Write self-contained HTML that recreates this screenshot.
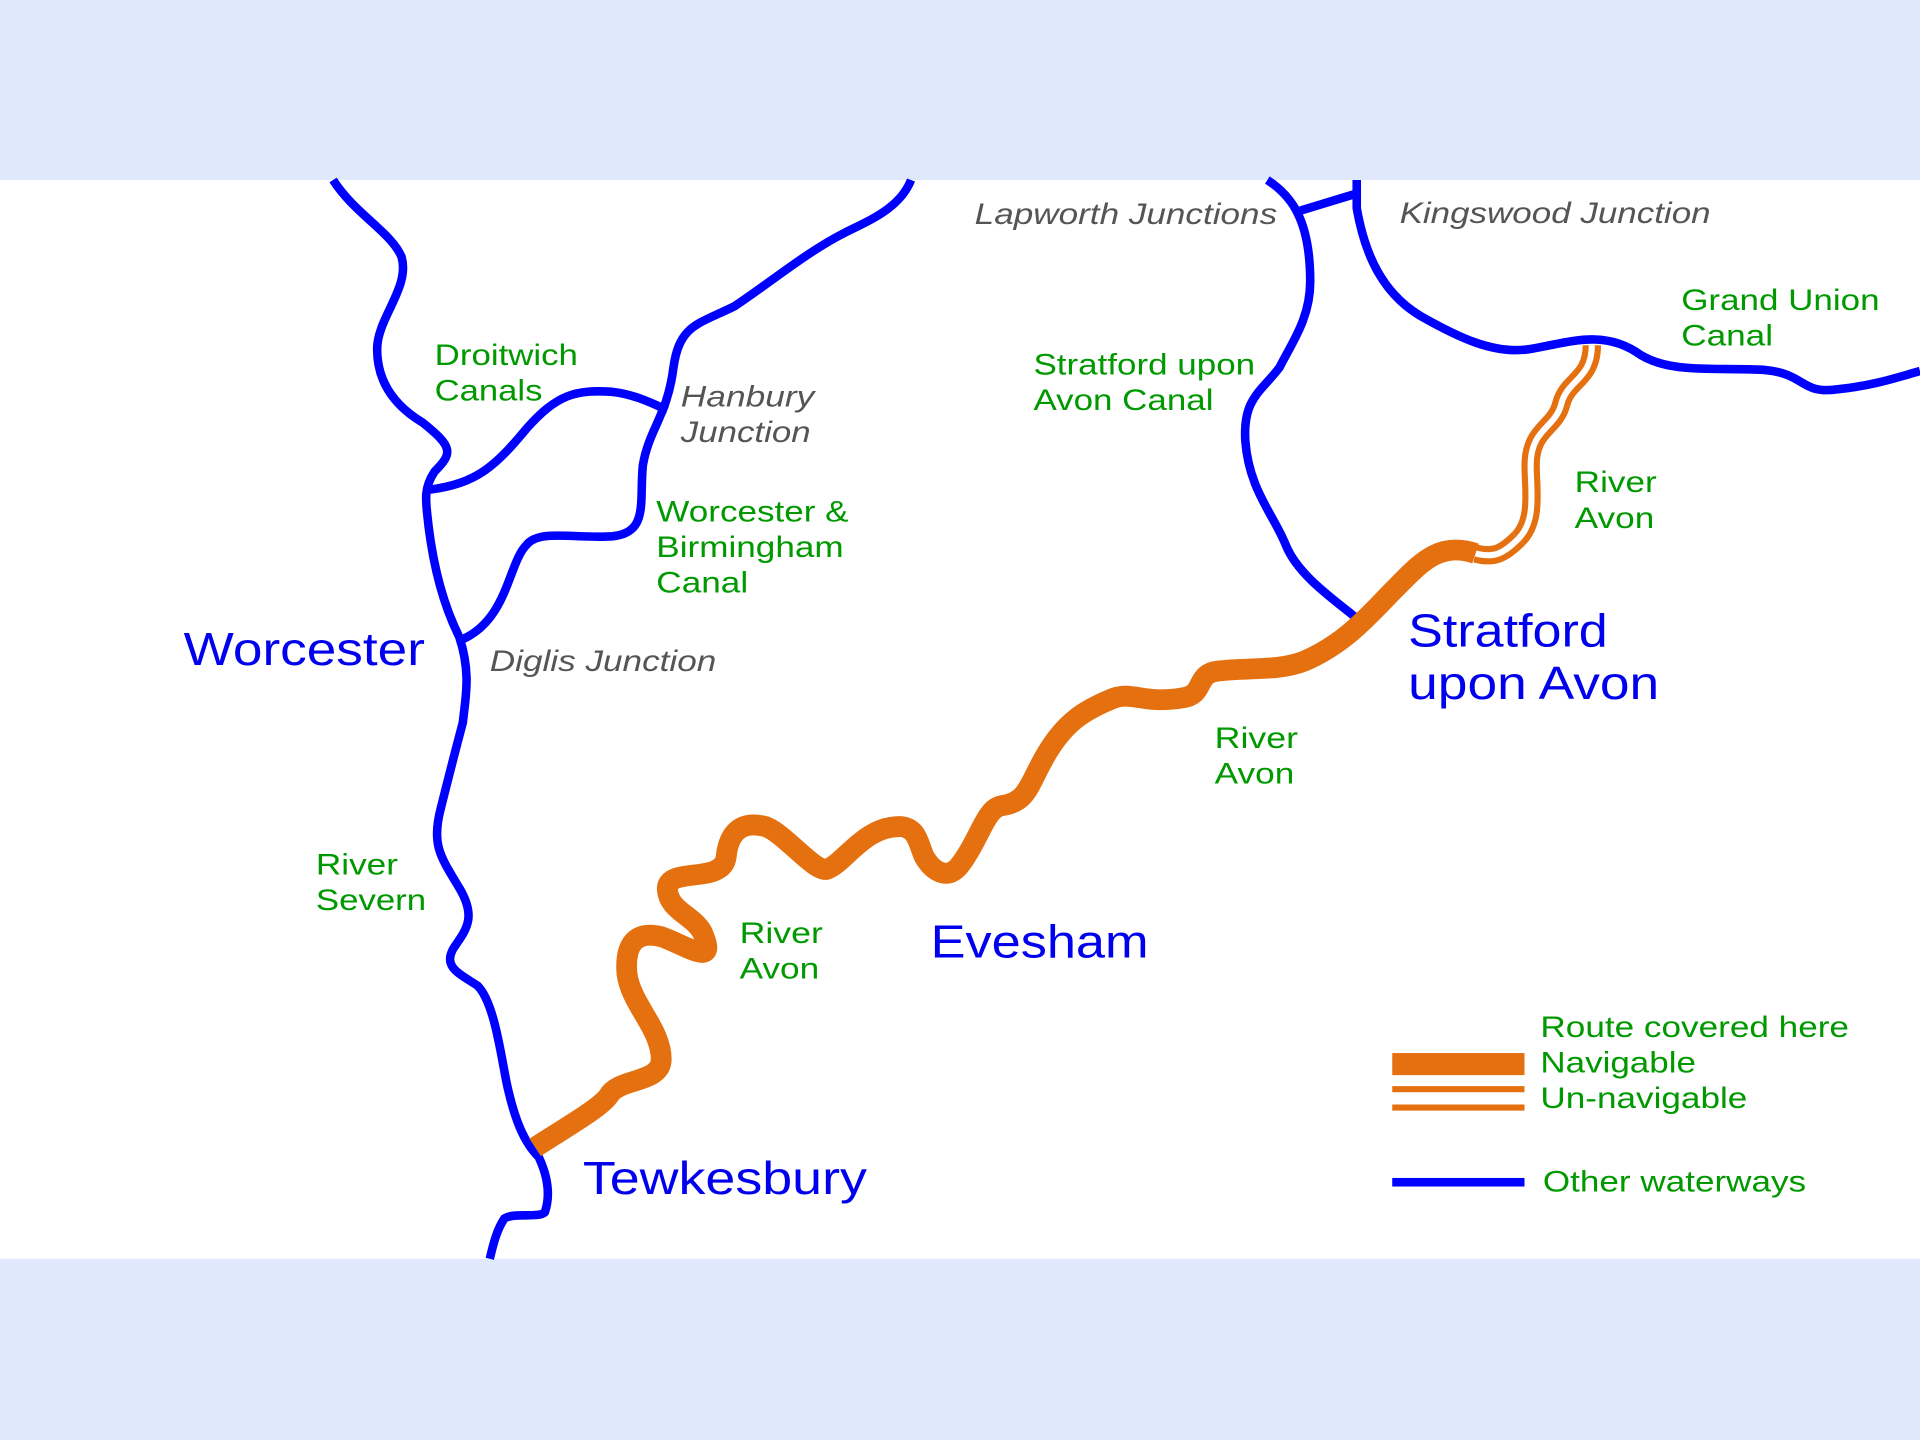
<!DOCTYPE html>
<html><head><meta charset="utf-8"><style>
html,body{margin:0;padding:0;background:#fff}
svg{display:block}
text{font-family:"Liberation Sans",sans-serif}
.g{fill:#009900;font-size:24px}
.i{fill:#555;font-size:24px;font-style:italic}
.c{fill:#0000ee;font-size:38px}
.b{fill:none;stroke:#0000ff;stroke-width:7;stroke-linecap:butt;stroke-linejoin:round}
</style></head><body>
<svg width="1920" height="1440" viewBox="0 0 1568 1176" xmlns="http://www.w3.org/2000/svg">
<rect x="0" y="0" width="1568" height="1176" fill="#dfe8fc"/>
<rect x="0" y="147" width="1568" height="881" fill="#fff"/>
<path class="b" d="M272,147 C290,175 320,190 328,210 C335,235 308,260 308,285 C308,310 320,330 345,345 C370,365 370,370 355,385 C345,400 348,410 350,430 C355,470 365,500 375,520 C385,550 380,570 378,590 C370,620 365,640 360,660 C352,690 360,700 375,725 C390,750 380,760 370,775 C362,790 375,795 390,805 C405,820 410,870 415,890 C422,920 430,935 440,945 C447,960 450,975 445,990 C440,995 420,990 412,995 C405,1005 402,1020 400,1028"/>
<path class="b" d="M350,400 C390,395 405,380 430,350 C455,322 470,318 500,320 C520,322 540,333 545,335"/>
<path class="b" d="M744,147 C735,170 710,180 690,190 C660,205 630,230 600,250 C570,265 555,265 550,300 C545,340 530,350 525,380 C522,410 530,435 500,438 C470,440 440,432 430,445 C415,460 415,505 378,522"/>
<path class="b" d="M1035,147 C1055,160 1070,180 1070,230 C1070,260 1055,280 1045,300 C1030,320 1015,325 1017,360 C1020,400 1040,420 1050,445 C1060,470 1090,490 1108,505"/>
<path class="b" d="M1062,172 L1108,158"/>
<path class="b" d="M1108,147 L1108,170 C1115,210 1130,240 1160,258 C1190,275 1220,290 1250,285 C1280,280 1310,268 1340,290 C1365,305 1400,300 1440,302 C1475,305 1470,322 1500,318 C1530,315 1550,308 1568,303"/>
<path d="M1240,440 C1255,425 1250,400 1250,380 C1250,350 1270,350 1275,330 C1280,310 1300,310 1300,282" fill="none" stroke="#e57010" stroke-width="15"/>
<path d="M1240,440 C1255,425 1250,400 1250,380 C1250,350 1270,350 1275,330 C1280,310 1300,310 1300,282" fill="none" stroke="#fff" stroke-width="5"/>
<path d="M1205,452 C1220,456 1228,452 1240,440" fill="none" stroke="#e57010" stroke-width="15"/>
<path d="M1205,452 C1220,456 1228,452 1240,440" fill="none" stroke="#fff" stroke-width="5"/>
<path d="M437,937 C460,922 490,905 497,895 C505,880 540,885 540,865 C540,840 515,820 512,795 C510,770 520,760 540,765 C560,772 585,790 575,765 C570,748 545,745 545,725 C547,708 590,722 593,700 C595,680 605,670 625,675 C640,680 665,712 675,710 C690,705 705,675 735,675 C750,676 750,690 755,700 C762,712 775,720 785,705 C800,685 805,660 818,658 C840,655 840,640 855,615 C870,590 885,580 910,570 C925,565 935,575 965,570 C985,568 975,550 995,548 C1020,545 1045,548 1065,540 C1100,525 1120,500 1140,480 C1160,460 1175,442 1205,452" fill="none" stroke="#e57010" stroke-width="17" stroke-linejoin="round"/>
<g lengthAdjust="spacingAndGlyphs">
<text class="g" x="355" y="298" textLength="117" lengthAdjust="spacingAndGlyphs">Droitwich</text><text class="g" x="355" y="327" textLength="88" lengthAdjust="spacingAndGlyphs">Canals</text>
<text class="i" x="556" y="332" textLength="109" lengthAdjust="spacingAndGlyphs">Hanbury</text><text class="i" x="556" y="361" textLength="106" lengthAdjust="spacingAndGlyphs">Junction</text>
<text class="g" x="536" y="426" textLength="157" lengthAdjust="spacingAndGlyphs">Worcester &amp;</text><text class="g" x="536" y="455" textLength="153" lengthAdjust="spacingAndGlyphs">Birmingham</text><text class="g" x="536" y="484" textLength="75" lengthAdjust="spacingAndGlyphs">Canal</text>
<text class="c" x="150" y="543" textLength="197" lengthAdjust="spacingAndGlyphs">Worcester</text>
<text class="i" x="400" y="548" textLength="185" lengthAdjust="spacingAndGlyphs">Diglis Junction</text>
<text class="g" x="258" y="714" textLength="67" lengthAdjust="spacingAndGlyphs">River</text><text class="g" x="258" y="743" textLength="90" lengthAdjust="spacingAndGlyphs">Severn</text>
<text class="g" x="604" y="770" textLength="68" lengthAdjust="spacingAndGlyphs">River</text><text class="g" x="604" y="799" textLength="65" lengthAdjust="spacingAndGlyphs">Avon</text>
<text class="c" x="760" y="782" textLength="178" lengthAdjust="spacingAndGlyphs">Evesham</text>
<text class="c" x="476" y="975" textLength="232" lengthAdjust="spacingAndGlyphs">Tewkesbury</text>
<text class="i" x="796" y="183" textLength="247" lengthAdjust="spacingAndGlyphs">Lapworth Junctions</text>
<text class="i" x="1143" y="182" textLength="254" lengthAdjust="spacingAndGlyphs">Kingswood Junction</text>
<text class="g" x="1373" y="253" textLength="162" lengthAdjust="spacingAndGlyphs">Grand Union</text><text class="g" x="1373" y="282" textLength="75" lengthAdjust="spacingAndGlyphs">Canal</text>
<text class="g" x="844" y="306" textLength="181" lengthAdjust="spacingAndGlyphs">Stratford upon</text><text class="g" x="844" y="335" textLength="147" lengthAdjust="spacingAndGlyphs">Avon Canal</text>
<text class="g" x="1286" y="402" textLength="67" lengthAdjust="spacingAndGlyphs">River</text><text class="g" x="1286" y="431" textLength="65" lengthAdjust="spacingAndGlyphs">Avon</text>
<text class="c" x="1150" y="528" textLength="163" lengthAdjust="spacingAndGlyphs">Stratford</text><text class="c" x="1150" y="571" textLength="205" lengthAdjust="spacingAndGlyphs">upon Avon</text>
<text class="g" x="992" y="611" textLength="68" lengthAdjust="spacingAndGlyphs">River</text><text class="g" x="992" y="640" textLength="65" lengthAdjust="spacingAndGlyphs">Avon</text>
<text class="g" x="1258" y="847" textLength="252" lengthAdjust="spacingAndGlyphs">Route covered here</text>
<text class="g" x="1258" y="876" textLength="127" lengthAdjust="spacingAndGlyphs">Navigable</text>
<text class="g" x="1258" y="905" textLength="169" lengthAdjust="spacingAndGlyphs">Un-navigable</text>
<text class="g" x="1260" y="973" textLength="215" lengthAdjust="spacingAndGlyphs">Other waterways</text>
</g>
<rect x="1137" y="860" width="108" height="18" fill="#e57010"/>
<rect x="1137" y="887" width="108" height="5" fill="#e57010"/>
<rect x="1137" y="902" width="108" height="5" fill="#e57010"/>
<rect x="1137" y="962" width="108" height="7" fill="#0000ff"/>
</svg>
</body></html>
